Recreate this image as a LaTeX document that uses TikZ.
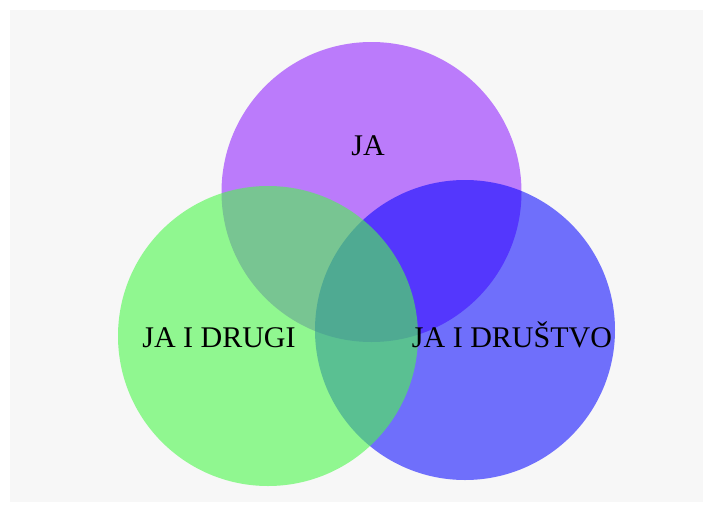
\documentclass[tikz,border=0pt]{standalone}
\usepackage{fontspec}
\setmainfont{Liberation Serif}
\definecolor{bggray}{RGB}{247,247,247}
\definecolor{vpurple}{RGB}{128,0,255}
\definecolor{vblue}{RGB}{0,0,255}
\definecolor{vgreen}{RGB}{76,247,76}
\tikzset{
  venn/.style={circle, draw=none, inner sep=0pt, minimum size=300pt},
  lbl/.style={anchor=base, inner sep=0pt, text=black, font=\fontsize{30}{36}\selectfont}
}
\begin{document}
\begin{tikzpicture}[x=1pt,y=-1pt]
\useasboundingbox (0,0) rectangle (713,512);
\fill[white] (0,0) rectangle (713,512);
\fill[bggray] (10,10) rectangle (703,502);
\node[venn, fill=vpurple, fill opacity=0.5] (ja) at (371.5,192) {};
\node[venn, fill=vblue, fill opacity=0.55] (drustvo) at (465,330) {};
\node[venn, fill=vgreen, fill opacity=0.6] (drugi) at (268,336) {};
\node[lbl] (tja) at (368,155) {JA};
\node[lbl] (tdrugi) at (219,347) {JA I DRUGI};
\node[lbl] (tdrustvo) at (512,347) {JA I DRUŠTVO};
\end{tikzpicture}
\end{document}
